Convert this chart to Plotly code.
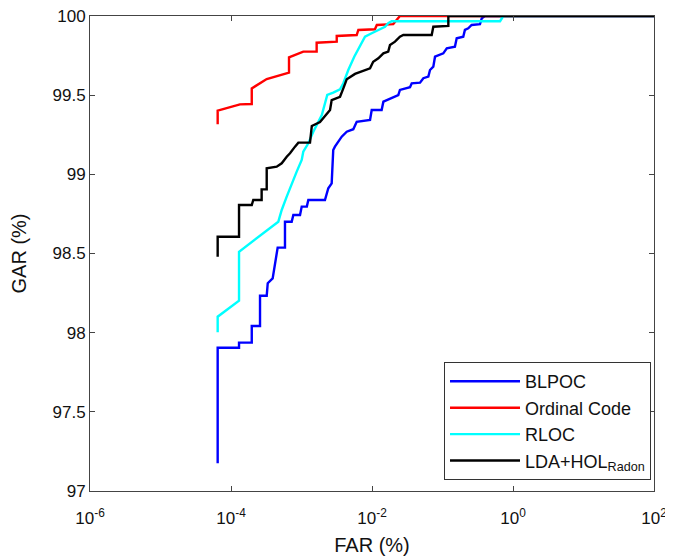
import plotly.graph_objects as go

# BLPOC
blpoc_far = [6.47e-5, 6.47e-5, 1.30e-4, 1.30e-4, 1.97e-4, 1.97e-4, 2.58e-4, 2.58e-4, 3.21e-4, 3.32e-4,
             3.90e-4, 4.59e-4, 5.83e-4, 5.83e-4, 7.26e-4, 7.66e-4, 9.53e-4, 1.007e-3, 1.19e-3, 1.25e-3,
             2.15e-3, 2.40e-3, 2.68e-3, 2.75e-3, 2.82e-3, 2.98e-3, 3.33e-3, 3.72e-3, 4.38e-3, 5.43e-3,
             6.07e-3, 9.38e-3, 9.91e-3, 1.37e-2, 1.45e-2, 1.90e-2, 2.36e-2, 2.49e-2, 3.46e-2, 3.66e-2,
             4.80e-2, 5.35e-2, 6.30e-2, 6.65e-2, 7.41e-2, 7.83e-2, 0.1026, 0.115, 0.150, 0.159,
             0.197, 0.208, 0.232, 0.259, 0.340, 0.360, 0.401, 100]
blpoc_gar = [97.175, 97.905, 97.905, 97.937, 97.937, 98.042, 98.042, 98.233, 98.233, 98.312,
             98.343, 98.537, 98.537, 98.701, 98.701, 98.743, 98.743, 98.796, 98.796, 98.838,
             98.838, 98.912, 98.943, 99.060, 99.154, 99.175, 99.206, 99.238, 99.269, 99.285,
             99.332, 99.343, 99.406, 99.406, 99.459, 99.480, 99.501, 99.533, 99.550, 99.575,
             99.579, 99.607, 99.617, 99.659, 99.680, 99.743, 99.764, 99.796, 99.806, 99.859,
             99.869, 99.912, 99.922, 99.943, 99.948, 99.985, 100, 100]

# Ordinal Code
ordinal_far = [6.47e-5, 6.47e-5, 1.34e-4, 1.97e-4, 1.97e-4, 3.21e-4, 6.65e-4, 6.65e-4, 1.06e-3, 1.64e-3,
               1.64e-3, 3.16e-3, 3.16e-3, 6.07e-3, 6.40e-3, 1.10e-2, 1.17e-2, 2.00e-2, 2.49e-2, 100]
ordinal_gar = [99.316, 99.402, 99.442, 99.444, 99.543, 99.602, 99.642, 99.739, 99.775, 99.775,
               99.831, 99.838, 99.874, 99.880, 99.912, 99.916, 99.943, 99.949, 100, 100]

# RLOC
rloc_far = [6.47e-5, 6.47e-5, 1.30e-4, 1.30e-4, 4.69e-4, 5.24e-4, 6.17e-4, 7.26e-4, 8.55e-4, 1.007e-3,
            1.06e-3, 1.25e-3, 1.47e-3, 1.94e-3, 2.32e-3, 2.82e-3, 3.52e-3, 3.92e-3, 4.61e-3, 5.60e-3,
            6.76e-3, 7.96e-3, 9.91e-3, 1.23e-2, 1.53e-2, 1.70e-2, 1.90e-2, 0.655, 0.728, 100]
rloc_gar = [98.002, 98.101, 98.202, 98.511, 98.701, 98.775, 98.859, 98.943, 99.017, 99.091,
            99.143, 99.196, 99.269, 99.375, 99.501, 99.516, 99.537, 99.575, 99.659, 99.743,
            99.815, 99.869, 99.891, 99.912, 99.932, 99.954, 99.967, 99.967, 100, 100]

# LDA+HOL_Radon
lda_far = [6.47e-5, 6.47e-5, 1.30e-4, 1.30e-4, 1.97e-4, 2.07e-4, 2.72e-4, 2.72e-4, 3.21e-4, 3.21e-4,
           4.45e-4, 5.24e-4, 6.17e-4, 6.87e-4, 8.09e-4, 9.02e-4, 1.32e-3, 1.40e-3, 1.83e-3, 2.15e-3,
           2.54e-3, 2.68e-3, 3.52e-3, 3.92e-3, 4.38e-3, 5.74e-3, 7.14e-3, 9.38e-3, 1.04e-2, 1.23e-2,
           1.45e-2, 1.70e-2, 1.80e-2, 2.12e-2, 2.49e-2, 2.78e-2, 7.03e-2, 7.41e-2, 0.121, 0.121, 100]
lda_gar = [98.480, 98.606, 98.606, 98.806, 98.806, 98.838, 98.838, 98.905, 98.905, 99.038,
           99.048, 99.070, 99.111, 99.133, 99.175, 99.200, 99.200, 99.305, 99.330, 99.364,
           99.406, 99.469, 99.490, 99.543, 99.600, 99.634, 99.648, 99.670, 99.711, 99.733,
           99.764, 99.775, 99.817, 99.838, 99.869, 99.880, 99.880, 99.932, 99.937, 100, 100]

series_names = ["BLPOC", "Ordinal Code", "RLOC", "LDA+HOL<sub>Radon</sub>"]
series_colors = ["#0000FF", "#FF0000", "#00FFFF", "#000000"]
series_data = [(blpoc_far, blpoc_gar), (ordinal_far, ordinal_gar), (rloc_far, rloc_gar), (lda_far, lda_gar)]

x_tickvals = [1e-6, 1e-4, 1e-2, 1e0, 1e2]
x_ticktext = ["10<sup>-6</sup>", "10<sup>-4</sup>", "10<sup>-2</sup>", "10<sup>0</sup>", "10<sup>2</sup>"]
y_tickvals = [97, 97.5, 98, 98.5, 99, 99.5, 100]
y_ticktext = ["97", "97.5", "98", "98.5", "99", "99.5", "100"]

fig = go.Figure()
for name, color, (fx, gy) in zip(series_names, series_colors, series_data):
    fig.add_trace(go.Scatter(x=fx, y=gy, mode="lines", name=name,
                             line=dict(color=color, width=2.4), cliponaxis=False))

font_family = "Liberation Sans, Arial, sans-serif"
fig.update_layout(
    width=665, height=551,
    margin=dict(l=82, r=19, t=8, b=68),
    paper_bgcolor="white", plot_bgcolor="white",
    font=dict(family=font_family, size=17, color="#111111"),
    showlegend=True,
    legend=dict(x=0.9947, y=0.023, xanchor="right", yanchor="bottom",
                bgcolor="white", bordercolor="#333333", borderwidth=1,
                itemwidth=70,
                font=dict(size=18, color="#111111"), tracegroupgap=0),
    xaxis=dict(type="log", range=[-6, 2], tickvals=x_tickvals, ticktext=x_ticktext,
               automargin=False, ticklabeloverflow="allow", ticklabelstandoff=12,
               showgrid=False, zeroline=False, showline=True, linecolor="#444444", linewidth=1,
               mirror="ticks", ticks="inside", ticklen=5, tickcolor="#444444",
               title=dict(text="FAR (%)", standoff=10), tickfont=dict(size=17)),
    yaxis=dict(range=[97, 100], tickvals=y_tickvals, ticktext=y_ticktext,
               automargin=False, ticklabeloverflow="allow",
               showgrid=False, zeroline=False, showline=True, linecolor="#444444", linewidth=1,
               mirror="ticks", ticks="inside", ticklen=5, tickcolor="#444444",
               title=dict(text="GAR (%)", standoff=22), tickfont=dict(size=17)),
)

fig.write_html("out.html")
